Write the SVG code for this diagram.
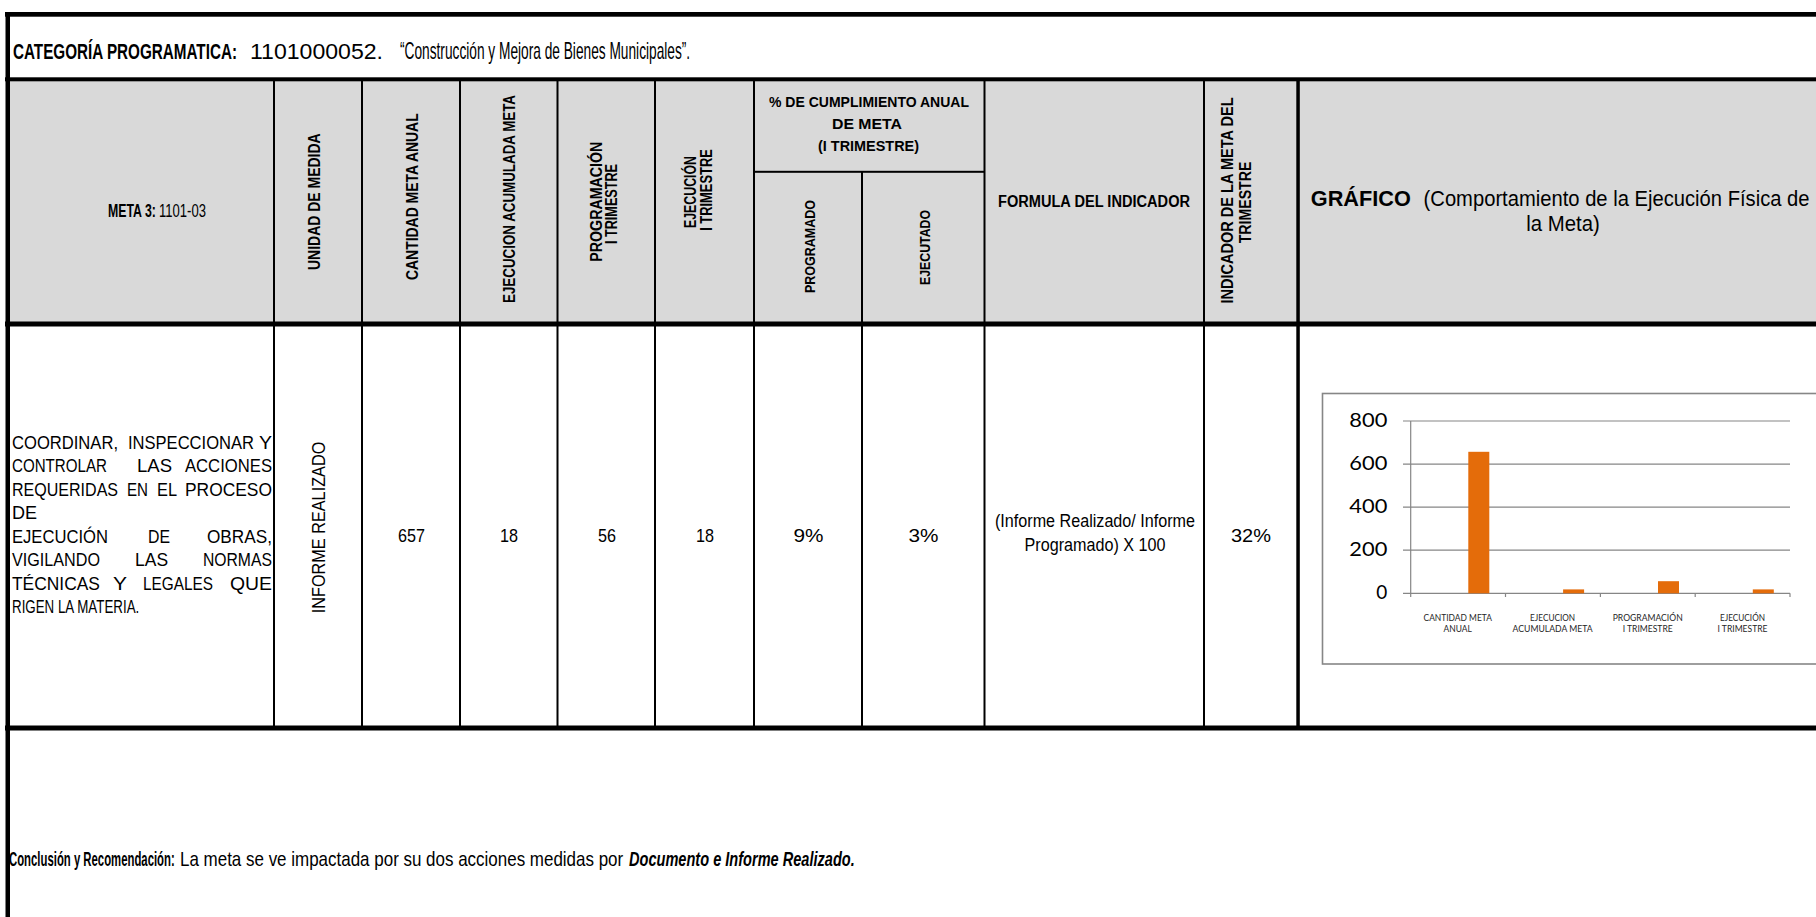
<svg xmlns="http://www.w3.org/2000/svg" width="1816" height="917" viewBox="0 0 1816 917">
<defs>
<style>
text{font-family:"Liberation Sans",Arial,sans-serif;fill:#000}
.b{font-weight:bold}
.bi{font-weight:bold;font-style:italic}
.hd{font-size:16px;font-weight:bold}
.ds{font-size:19px}
.nm{font-size:19px;text-anchor:middle}
.m{text-anchor:middle}
.ln{fill:#000}
.ch text{font-family:Lato,"Open Sans",sans-serif}
.yl{font-size:19px;text-anchor:end;fill:#000}
.cl{font-size:9.5px;text-anchor:middle;fill:#262626}
.grid{stroke:#868686;stroke-width:1.2;fill:none}
.bar{fill:#E46C0A}
</style>
</defs>
<rect width="1816" height="917" fill="#fff"/>

<g id="header-fill">
<rect x="9" y="81" width="1807" height="241" fill="#D9D9D9"/>
</g>

<g id="connectors">
<rect class="ln" x="5" y="12" width="1811" height="4.7"/>
<rect class="ln" x="5.5" y="12" width="4.5" height="905"/>
<rect class="ln" x="5" y="77.3" width="1811" height="4"/>
<rect class="ln" x="5" y="321.5" width="1811" height="5"/>
<rect class="ln" x="5" y="725.5" width="1811" height="5"/>
<rect class="ln" x="273" y="81" width="2" height="645"/>
<rect class="ln" x="361" y="81" width="2" height="645"/>
<rect class="ln" x="459" y="81" width="2" height="645"/>
<rect class="ln" x="556.5" y="81" width="2" height="645"/>
<rect class="ln" x="654" y="81" width="2" height="645"/>
<rect class="ln" x="753" y="81" width="2" height="645"/>
<rect class="ln" x="861" y="171" width="2" height="555"/>
<rect class="ln" x="983.5" y="81" width="2" height="645"/>
<rect class="ln" x="1203" y="81" width="2" height="645"/>
<rect class="ln" x="1296.3" y="81" width="3.5" height="645"/>
<rect class="ln" x="753" y="170.8" width="232" height="2"/>
</g>

<g id="title">
<text class="b" font-size="22" transform="translate(13,58.7) scale(0.69,1)" textLength="324.6" lengthAdjust="spacingAndGlyphs">CATEGORÍA PROGRAMATICA:</text>
<text x="250" y="58.7" font-size="22" textLength="133" lengthAdjust="spacingAndGlyphs">1101000052.</text>
<text font-size="23" transform="translate(400,58.7) scale(0.62,1)" textLength="468" lengthAdjust="spacingAndGlyphs">“Construcción y Mejora de Bienes Municipales”.</text>
</g>

<g id="h-meta">
<text class="b" font-size="19" transform="translate(108,216.5) scale(0.63,1)" textLength="76" lengthAdjust="spacingAndGlyphs">META 3:</text>
<text font-size="19" transform="translate(159,216.5) scale(0.67,1)" textLength="70" lengthAdjust="spacingAndGlyphs">1101-03</text>
</g>
<g id="h-unidad"><text class="hd m" transform="translate(319.5,201.7) rotate(-90)" textLength="136.7" lengthAdjust="spacingAndGlyphs">UNIDAD DE MEDIDA</text></g>
<g id="h-cantidad"><text class="hd m" transform="translate(417.5,196.7) rotate(-90)" textLength="166.7" lengthAdjust="spacingAndGlyphs">CANTIDAD META ANUAL</text></g>
<g id="h-ejec-acum"><text class="hd m" transform="translate(514.5,199) rotate(-90)" textLength="208" lengthAdjust="spacingAndGlyphs">EJECUCION ACUMULADA META</text></g>
<g id="h-programacion">
<text class="hd m" transform="translate(601.5,201.7) rotate(-90)" textLength="120" lengthAdjust="spacingAndGlyphs">PROGRAMACIÓN</text>
<text class="hd m" transform="translate(617,204) rotate(-90)" textLength="80" lengthAdjust="spacingAndGlyphs">I TRIMESTRE</text>
</g>
<g id="h-ejecucion">
<text class="hd m" transform="translate(696,192) rotate(-90)" textLength="72" lengthAdjust="spacingAndGlyphs">EJECUCIÓN</text>
<text class="hd m" transform="translate(711.5,190) rotate(-90)" textLength="81.7" lengthAdjust="spacingAndGlyphs">I TRIMESTRE</text>
</g>
<g id="h-cumplimiento">
<text class="b m" x="869" y="107" font-size="15.5" textLength="200" lengthAdjust="spacingAndGlyphs">% DE CUMPLIMIENTO ANUAL</text>
<text class="b m" x="867" y="129" font-size="15.5" textLength="70" lengthAdjust="spacingAndGlyphs">DE META</text>
<text class="b m" x="868.5" y="151" font-size="15.5" textLength="101" lengthAdjust="spacingAndGlyphs">(I TRIMESTRE)</text>
</g>
<g id="h-programado"><text class="b m" font-size="15" transform="translate(815,246.5) rotate(-90)" textLength="93" lengthAdjust="spacingAndGlyphs">PROGRAMADO</text></g>
<g id="h-ejecutado"><text class="b m" font-size="15" transform="translate(929.5,247.5) rotate(-90)" textLength="75" lengthAdjust="spacingAndGlyphs">EJECUTADO</text></g>
<g id="h-formula"><text class="hd m" x="1094" y="206.5" textLength="192" lengthAdjust="spacingAndGlyphs">FORMULA DEL INDICADOR</text></g>
<g id="h-indicador">
<text class="hd m" transform="translate(1233,200.5) rotate(-90)" textLength="206" lengthAdjust="spacingAndGlyphs">INDICADOR DE LA META DEL</text>
<text class="hd m" transform="translate(1251,202.5) rotate(-90)" textLength="81.6" lengthAdjust="spacingAndGlyphs">TRIMESTRE</text>
</g>
<g id="h-grafico">
<text class="b" x="1310.8" y="206" font-size="22" textLength="100" lengthAdjust="spacingAndGlyphs">GRÁFICO</text>
<text font-size="22" transform="translate(1423.6,206) scale(0.93,1)" textLength="415" lengthAdjust="spacingAndGlyphs">(Comportamiento de la Ejecución Física de</text>
<text class="m" x="1563" y="231" font-size="22" textLength="73.5" lengthAdjust="spacingAndGlyphs">la Meta)</text>
</g>

<g id="d-descripcion" transform="scale(0.86,1)">
<text x="13.95" y="449" class="ds" textLength="123.3" lengthAdjust="spacingAndGlyphs">COORDINAR,</text>
<text x="148.8" y="449" class="ds" textLength="146.5" lengthAdjust="spacingAndGlyphs">INSPECCIONAR</text>
<text x="301.2" y="449" class="ds" textLength="15.1" lengthAdjust="spacingAndGlyphs">Y</text>
<text x="13.95" y="472.5" class="ds" textLength="110.5" lengthAdjust="spacingAndGlyphs">CONTROLAR</text>
<text x="159.3" y="472.5" class="ds" textLength="40.7" lengthAdjust="spacingAndGlyphs">LAS</text>
<text x="215.1" y="472.5" class="ds" textLength="101.2" lengthAdjust="spacingAndGlyphs">ACCIONES</text>
<text x="13.95" y="496" class="ds" textLength="123.3" lengthAdjust="spacingAndGlyphs">REQUERIDAS</text>
<text x="147.7" y="496" class="ds" textLength="24.4" lengthAdjust="spacingAndGlyphs">EN</text>
<text x="182.6" y="496" class="ds" textLength="23.3" lengthAdjust="spacingAndGlyphs">EL</text>
<text x="215.1" y="496" class="ds" textLength="101.2" lengthAdjust="spacingAndGlyphs">PROCESO</text>
<text x="13.95" y="519.5" class="ds" textLength="29.1" lengthAdjust="spacingAndGlyphs">DE</text>
<text x="13.95" y="543" class="ds" textLength="111.6" lengthAdjust="spacingAndGlyphs">EJECUCIÓN</text>
<text x="172.1" y="543" class="ds" textLength="25.6" lengthAdjust="spacingAndGlyphs">DE</text>
<text x="240.7" y="543" class="ds" textLength="75.6" lengthAdjust="spacingAndGlyphs">OBRAS,</text>
<text x="13.95" y="566.5" class="ds" textLength="102.3" lengthAdjust="spacingAndGlyphs">VIGILANDO</text>
<text x="157" y="566.5" class="ds" textLength="38.4" lengthAdjust="spacingAndGlyphs">LAS</text>
<text x="236" y="566.5" class="ds" textLength="80.2" lengthAdjust="spacingAndGlyphs">NORMAS</text>
<text x="13.95" y="590" class="ds" textLength="102.3" lengthAdjust="spacingAndGlyphs">TÉCNICAS</text>
<text x="131.4" y="590" class="ds" textLength="16.3" lengthAdjust="spacingAndGlyphs">Y</text>
<text x="166.3" y="590" class="ds" textLength="81.4" lengthAdjust="spacingAndGlyphs">LEGALES</text>
<text x="267.4" y="590" class="ds" textLength="48.8" lengthAdjust="spacingAndGlyphs">QUE</text>
<text x="13.95" y="613.5" class="ds" textLength="148" lengthAdjust="spacingAndGlyphs">RIGEN LA MATERIA.</text>
</g>
<g id="d-unidad"><text class="m" font-size="19" transform="translate(324.5,527.5) rotate(-90)" textLength="171.6" lengthAdjust="spacingAndGlyphs">INFORME REALIZADO</text></g>
<g id="d-cantidad"><text class="nm" x="411.5" y="541.7" textLength="27" lengthAdjust="spacingAndGlyphs">657</text></g>
<g id="d-ejec-acum"><text class="nm" x="509" y="541.7" textLength="18" lengthAdjust="spacingAndGlyphs">18</text></g>
<g id="d-programacion"><text class="nm" x="607" y="541.7" textLength="18" lengthAdjust="spacingAndGlyphs">56</text></g>
<g id="d-ejecucion"><text class="nm" x="705" y="541.7" textLength="18" lengthAdjust="spacingAndGlyphs">18</text></g>
<g id="d-programado"><text class="nm" x="808.5" y="541.7" textLength="30" lengthAdjust="spacingAndGlyphs">9%</text></g>
<g id="d-ejecutado"><text class="nm" x="923.5" y="541.7" textLength="30" lengthAdjust="spacingAndGlyphs">3%</text></g>
<g id="d-formula">
<text class="m" x="1095" y="526.5" font-size="17.5" textLength="200" lengthAdjust="spacingAndGlyphs">(Informe Realizado/ Informe</text>
<text class="m" x="1095" y="551" font-size="17.5" textLength="141" lengthAdjust="spacingAndGlyphs">Programado) X 100</text>
</g>
<g id="d-indicador"><text class="nm" x="1251" y="541.7" textLength="40" lengthAdjust="spacingAndGlyphs">32%</text></g>

<g id="d-grafico" class="ch">
<rect x="1322.5" y="393.5" width="520" height="270.5" fill="#fff" stroke="#868686" stroke-width="1.6"/>
<path class="grid" d="M1403 421H1790M1403 464.1H1790M1403 507.2H1790M1403 550.2H1790M1403 593.3H1790M1410.7 421V597M1505.5 593.3V597M1600.4 593.3V597M1695.2 593.3V597M1790 593.3V597"/>
<rect class="bar" x="1468.3" y="451.8" width="21" height="141.5"/>
<rect class="bar" x="1563.1" y="589.4" width="21" height="3.9"/>
<rect class="bar" x="1658" y="581.2" width="21" height="12.1"/>
<rect class="bar" x="1752.8" y="589.4" width="21" height="3.9"/>
<text class="yl" x="1387.3" y="426.7" textLength="38" lengthAdjust="spacingAndGlyphs">800</text>
<text class="yl" x="1387.3" y="469.8" textLength="38" lengthAdjust="spacingAndGlyphs">600</text>
<text class="yl" x="1387.3" y="512.9" textLength="38" lengthAdjust="spacingAndGlyphs">400</text>
<text class="yl" x="1387.3" y="555.9" textLength="38" lengthAdjust="spacingAndGlyphs">200</text>
<text class="yl" x="1387.3" y="599">0</text>
<text class="cl" x="1457.7" y="621" textLength="68.3" lengthAdjust="spacingAndGlyphs">CANTIDAD META</text>
<text class="cl" x="1457.7" y="632.3" textLength="28.3" lengthAdjust="spacingAndGlyphs">ANUAL</text>
<text class="cl" x="1552.6" y="621" textLength="45" lengthAdjust="spacingAndGlyphs">EJECUCION</text>
<text class="cl" x="1552.6" y="632.3" textLength="80" lengthAdjust="spacingAndGlyphs">ACUMULADA META</text>
<text class="cl" x="1647.7" y="621" textLength="70" lengthAdjust="spacingAndGlyphs">PROGRAMACIÓN</text>
<text class="cl" x="1647.7" y="632.3" textLength="50" lengthAdjust="spacingAndGlyphs">I TRIMESTRE</text>
<text class="cl" x="1742.5" y="621" textLength="45" lengthAdjust="spacingAndGlyphs">EJECUCIÓN</text>
<text class="cl" x="1742.5" y="632.3" textLength="50" lengthAdjust="spacingAndGlyphs">I TRIMESTRE</text>
</g>

<g id="conclusion">
<text class="b" font-size="20.5" transform="translate(9,866) scale(0.56,1)" textLength="296" lengthAdjust="spacingAndGlyphs">Conclusión y Recomendación:</text>
<text font-size="20.5" transform="translate(180,866) scale(0.83,1)" textLength="534" lengthAdjust="spacingAndGlyphs">La meta se ve impactada por su dos acciones medidas por</text>
<text class="bi" font-size="20.5" transform="translate(629,866) scale(0.71,1)" textLength="318" lengthAdjust="spacingAndGlyphs">Documento e Informe Realizado.</text>
</g>
</svg>
